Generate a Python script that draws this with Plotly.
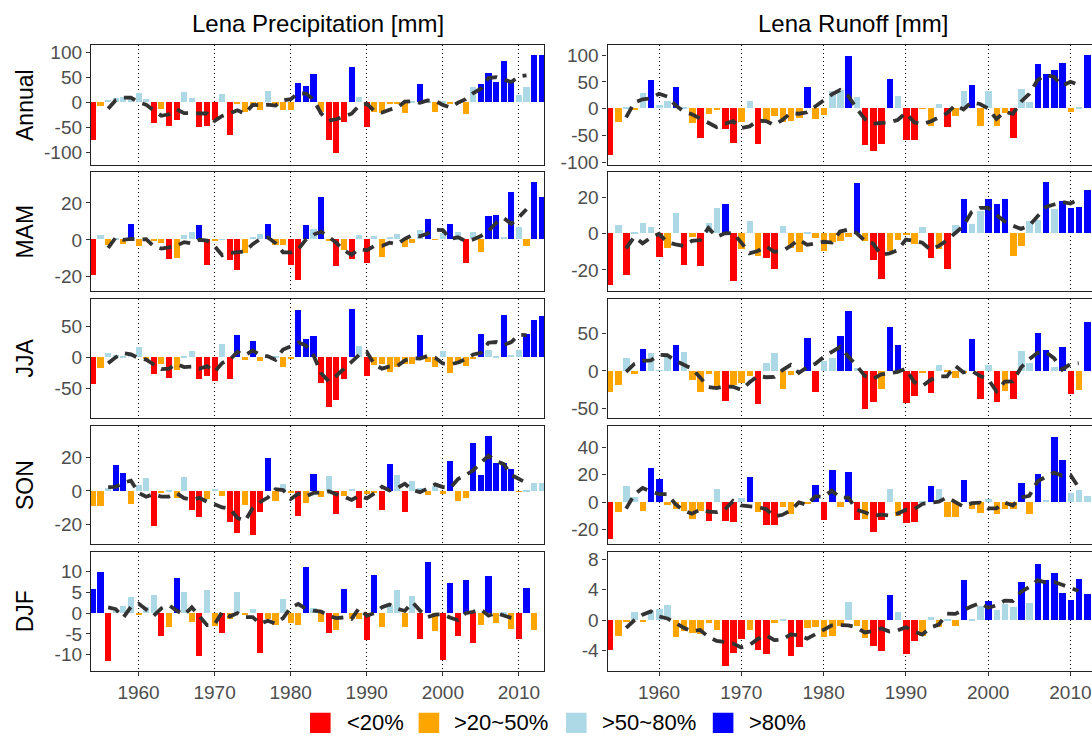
import pandas as pd
import plotly.graph_objects as go

YEARS = list(range(1954, 2014))
DECADES = [1960, 1970, 1980, 1990, 2000, 2010]
DECADE_LABELS = ["1960", "1970", "1980", "1990", "2000", "2010"]
SEASONS = ["Annual", "MAM", "JJA", "SON", "DJF"]
COL_TITLES = ["Lena Precipitation [mm]", "Lena Runoff [mm]"]
LEGEND_CODES = ["R", "O", "L", "B"]
LEGEND_LABELS = ["<20%", ">20~50%", ">50~80%", ">80%"]

# ---------------- Precipitation anomalies (1954-2013) ----------------
P_ANN = [-75, -8, 5, 8, 10, 10, 18, 6, -41, -13,
         -47, -36, 21, 8, -50, -48, -35, 17, -65, -2,
         -20, -6, -16, 22, -5, -15, -15, 38, 33, 56,
         -20, -75, -102, -39, 70, 11, -50, -20, -22, -3,
         -3, -22, 1, 37, 2, -19, 2, -4, -3, -24,
         30, 36, 58, 40, 83, 40, 14, 31, 95, 95]
P_ANN_CAT = "ROLLLLLLRO" "RRLLRRRLRO" "OOOLOOOBBB" "ORRRBLROOO" "OOLBLOLOOO" "LBBBBBLLBB"

P_MAM = [-19.5, 2.3, -2.8, 0.5, -2.3, 8.6, -3.7, -0.5, -0.8, -1.8,
         -10.5, -10, 2.6, 3.9, 7.9, -13.7, -0.5, 0.2, -11, -16.7,
         -7.4, 1.2, 3, 8.2, -2.8, -3, -14, -22, 7.9, 5.8,
         23, -0.4, -14.2, -5.8, -10.5, 2.6, -12.6, 1.6, -9.3, 1.2,
         2.8, -3.9, -2.1, 4.9, 11.2, -0.3, 3.3, 8.2, 4, -12.8,
         4.2, -6.7, 12.6, 13, 1.2, 25.8, 6.8, -3.3, 30.9, 22.8]
P_MAM_CAT = "RLOLOBOOOO" "ROLLBROLRR" "OLLBOORRBL" "BORORLRLOL" "LOOLBOLBLR" "LOBBLBLOBB"

P_JJA = [-43, -17, 7, 4, 2, 6, 16, -3, -26, -10.5,
         -33, -21, 1, 11, -35, -29.5, -38, 22, -35, 36,
         -3.7, 26, -6.3, 3.7, 1.5, -16, -2, 77, 29, 34,
         -41.6, -80.5, -68, -35, 78, 19, -29.5, -12, -10.5, -23,
         -15, -11, -10.5, 36, -7, -16, 10, -25, -10, -13.7,
         -2, 37, 12.6, 3, 68, 3.7, 11.6, 38, 61, 66]
P_JJA_CAT = "ROLLLLLORO" "ROLLRRRLRB" "OBOLLOOBBB" "RRRRBLROOO" "OOOBOOLOOO" "OBLLBLLBBB"

P_SON = [-8.6, -9, 1.8, 15.8, 10.9, -7.6, 3.5, 8, -21, -0.5,
         0.3, -4.3, 8.6, -11, -15.4, -4.5, 1.4, -3.1, -18.5, -24.8,
         -8.4, -26, -12.3, 19.7, -5.7, 4.3, -1, -14.8, -7, 10.1,
         -3.5, 9, -13.8, -3.1, 1.4, -10.3, -1.5, -1, -11, 16.4,
         9.5, -12.5, 6, 2, -2.3, 3, -1.6, 18.1, -6, -4,
         29, 9.7, 33, 16.8, 17, 13.4, -0.3, 0.8, 4.7, 5.1]
P_SON_CAT = "OOLBBOLLRO" "LOLRROLORR" "ORRBOLOROB" "OLROLROORB" "LRLLOLOBOO" "BBBBBBOLLL"

P_DJF = [5.9, 10, -11.4, 0.5, 1.7, 3.9, -0.2, 1.5, 4.4, -5.4,
         -3.3, 8.5, 5.2, -2.1, -10.2, 5.5, -3, -4.7, -1.4, 5.1,
         -0.2, 1.1, -9.5, -1.4, -2.9, 3.5, -2.3, -2.9, 11.2, 1.3,
         -2.1, -4.7, -3.9, 5.9, -1.3, -1.3, -6.5, 9.1, -3.3, 2,
         5.7, -3.3, 4.2, -6.1, 12.4, -4.3, -11.2, 7.2, -5.4, 8,
         -7.2, -2.8, 8.9, -2.4, 0.3, -3.7, -6.1, 6.1, -3.9, None]
P_DJF_CAT = "BBRLLLOLLR" "OBLORLOROL" "OLROOLOOBL" "OROBOORBOL" "LOLRBORBRB" "ROBOLORBOO"

# ---------------- Runoff anomalies (1954-2013) ----------------
R_ANN = [-86, -25, 3, -2, 29, 52, 5.5, 13, 39.5, 3,
         -28, -55, -11, -2, -39, -64, -25, 14, -66, -23,
         -13.5, -26, -23, -18, 39.5, -19, -13, 33, 35, 97.5,
         21, -68.5, -80, -66, 55, 23.5, -59, -58, -1, -32,
         7.4, -35, -15, 33, 43, -32, 32, -32, -9, -55,
         36, 12, 82, 64, 72, 85, -7.4, 1, 100, 45]
R_ANN_CAT = "ROLOLBLLBL" "OROORROLRO" "OOOOBOOLLB" "LRRRBLRROO" "LROLBOLOOR" "LLBBBBOLBL"

R_MAM = [-28.5, 4.9, -23.3, 0.5, 6, 3.8, -13.3, -7.9, 11.4, -17.4,
         -1.9, -17.8, 6, 13.9, 16.1, -26.3, -8.4, 6.9, -12.6, -13.7,
         -19.7, 4.3, -8, -10.1, 0.3, -2.8, -10, -5, -4.5, -2,
         27.8, -4.3, -14.8, -25.3, -10, -3.6, -0.5, -5.8, 3.8, -13.5,
         -8.6, -20, 4.9, 19.3, 5.3, 12.4, 19, 16.1, 19, -12.6,
         -7.1, 7.1, 7.3, 28.3, 13.5, 18, 14, 14.4, 24, 25]
R_MAM_CAT = "RLRLLLROLR" "ORLLBROLOR" "RLOOLOOOOO" "BORROOOOLR" "ORLBLLBBBO" "OLLBLBBBBB"

R_JJA = [-27.7, -19, 16.6, -4.3, 28.5, 23.8, 1, 20, 34, 24.7,
         -12.3, -27.8, -3.8, -24.3, -39.6, -18.3, -16, -7.2, -44, 9.8,
         23.8, -24.3, -5, 1, 44, -28.5, 12.8, 17.4, 45.5, 78.7,
         3.4, -50, -41.7, -23.4, 58.3, 33.6, -42, -32.8, -3, -29,
         7.2, -1.7, -9.4, -3.4, 41.7, -37, 7.7, -41.7, -26.4, -37,
         26, 10.2, 49.8, 28, 5.1, 32, -30.6, -25.5, 65, 10]
R_JJA_CAT = "OOLOBLLLBL" "OOOOROOORL" "LOOLBRLLBB" "LRROBBRROR" "LOOOBRLROR" "LLBBLBROBL"

R_SON = [-27, -6.7, 11.7, 4, -6, 25, 17.1, -1.7, -5, -6,
         -12.2, -6.2, -13.4, 10.2, -13.6, -14.1, 3.5, 18.4, -6.7, -16.9,
         -16.9, -3.5, -8.2, -1.2, -0.8, 12.7, -12.9, 23.6, -3.7, 22.1,
         -13.2, -11.9, -21.8, -12.7, 9.7, -9.7, -15.1, -14.4, 1, 11.9,
         9.7, -10.4, -10.4, 16.4, -5, -7.7, 2.5, -8.4, -4.5, -5,
         13.9, -8.4, 20.8, 1.7, 48, 30.8, 6.7, 9.2, 4.7, 2]
R_SON_CAT = "ROLLOBBOOO" "OORLRRLBOR" "ROOOOBRBOB" "RORRLORRLB" "LOOBOOLOOO" "BOBLBBLLLL"

R_DJF = [-3.9, -2.1, -0.2, 1.1, -0.1, 1.2, 1.5, 2, -2.2, -1.4,
         -1.7, -1.8, -0.3, -1.3, -6, -4.3, -2.5, -1.3, -3.9, -4.4,
         -0.3, 0.1, -4.7, -3.5, -1, -0.9, -2.2, -2, -0.8, 2.4,
         -0.7, -2.35, -3.4, -4.1, 3.3, 1.1, -4.4, -2.7, -2, 0.45,
         -0.85, 0.2, -0.8, 5.3, 0.2, 1.9, 2.5, 1.35, 2.15, 1.8,
         5, 2.3, 7.4, 5.3, 6.2, 3.6, 2.65, 5.5, 3.45, 4]
R_DJF_CAT = "ROOLOLLLOO" "OOOORRRORR" "OLRROOOOOL" "OORRBLRROL" "OLOBLLBLLL" "BLBBBBBBBB"

Y_TICKS_P = [[-100, -50, 0, 50, 100], [-20, 0, 20], [-50, 0, 50], [-20, 0, 20], [-10, -5, 0, 5, 10]]
Y_TICKS_R = [[-100, -50, 0, 50, 100], [-20, 0, 20], [-50, 0, 50], [-20, 0, 20, 40], [-4, 0, 4, 8]]

# ---------------- styling / layout (pixels) ----------------
W, H = 1092, 743
COLORS = {"R": "#FF0000", "O": "#FFA500", "L": "#ADD8E6", "B": "#0000FF"}
COL_X = [(91, 544), (607.6, 1092)]
X_RANGE = [(1953.75, 2013.3), (1953.75, 2012.62)]
ROW_Y = [(43, 164), (172, 292), (300.5, 421), (429, 549.5), (557, 678)]
Y_RANGE_P = [(-124, 115), (-27.5, 36.5), (-97, 94), (-32, 39), (-13.9, 14.7)]
Y_RANGE_R = [(-104, 118), (-31.5, 34), (-62, 95), (-31, 56), (-6.7, 9)]
FONT = "Liberation Sans, Arial, sans-serif"
TICK_COLOR = "#4D4D4D"

panels = [
    (0, 0, P_ANN, P_ANN_CAT), (0, 1, P_MAM, P_MAM_CAT), (0, 2, P_JJA, P_JJA_CAT),
    (0, 3, P_SON, P_SON_CAT), (0, 4, P_DJF, P_DJF_CAT),
    (1, 0, R_ANN, R_ANN_CAT), (1, 1, R_MAM, R_MAM_CAT), (1, 2, R_JJA, R_JJA_CAT),
    (1, 3, R_SON, R_SON_CAT), (1, 4, R_DJF, R_DJF_CAT),
]


def px(x):
    return x / W


def py(y):
    return 1 - y / H


fig = go.Figure()
layout = {}
for k, (col, row, vals, cats) in enumerate(panels, start=1):
    xa = "x" if k == 1 else f"x{k}"
    ya = "y" if k == 1 else f"y{k}"
    xkey = "xaxis" if k == 1 else f"xaxis{k}"
    ykey = "yaxis" if k == 1 else f"yaxis{k}"
    colors = [COLORS[c] for c in cats]
    fig.add_trace(go.Bar(x=YEARS, y=vals, marker=dict(color=colors, line=dict(width=0)),
                         width=0.8, xaxis=xa, yaxis=ya, showlegend=False, hoverinfo="x+y"))
    ma = pd.Series(vals, dtype="float").rolling(5, center=True).mean()
    fig.add_trace(go.Scatter(x=YEARS, y=ma, mode="lines", xaxis=xa, yaxis=ya, showlegend=False,
                             line=dict(color="#333333", width=3.8, dash="12px,8px"),
                             connectgaps=False))
    bottom = row == 4
    x0, x1 = COL_X[col]
    top, bot = ROW_Y[row]
    yticks = (Y_TICKS_P if col == 0 else Y_TICKS_R)[row]
    yr = (Y_RANGE_P if col == 0 else Y_RANGE_R)[row]
    layout[xkey] = dict(
        domain=[px(x0), px(x1)], anchor=ya, range=list(X_RANGE[col]),
        tickvals=DECADES, ticktext=DECADE_LABELS, showticklabels=bottom,
        ticks="outside" if bottom else "", ticklen=4, tickcolor="#333333",
        tickfont=dict(family=FONT, size=19, color=TICK_COLOR),
        showgrid=True, gridcolor="#000000", griddash="1px,3px", gridwidth=1.3,
        zeroline=False, showline=True, linecolor="#222222", linewidth=1.3, mirror=True,
    )
    layout[ykey] = dict(
        domain=[py(bot), py(top)], anchor=xa, range=list(yr),
        tickvals=yticks, ticktext=[str(v) for v in yticks],
        ticks="outside", ticklen=4, tickcolor="#333333",
        tickfont=dict(family=FONT, size=19, color=TICK_COLOR),
        showgrid=False, zeroline=False, showline=True, linecolor="#222222", linewidth=1.3,
        mirror=(col == 0),
    )

annotations = []
shapes = []
# column titles
for col, title in enumerate(COL_TITLES):
    cx = (91 + 544) / 2 if col == 0 else (607.6 + 1098) / 2
    annotations.append(dict(x=px(cx), y=py(21), xref="paper", yref="paper", text=title,
                            showarrow=False, font=dict(family=FONT, size=24, color="black"),
                            xanchor="center", yanchor="middle"))
# row labels
for row, s in enumerate(SEASONS):
    top, bot = ROW_Y[row]
    annotations.append(dict(x=px(25), y=py((top + bot) / 2), xref="paper", yref="paper", text=s,
                            showarrow=False, textangle=-90,
                            font=dict(family=FONT, size=23, color="black"),
                            xanchor="center", yanchor="middle"))
# legend
SQ_X = [310, 418.6, 566, 712.8]
TXT_X = [345, 451.5, 600, 746.5]
for code, label, sx, tx in zip(LEGEND_CODES, LEGEND_LABELS, SQ_X, TXT_X):
    shapes.append(dict(type="rect", xref="paper", yref="paper", x0=px(sx), x1=px(sx + 20.6),
                       y0=py(741), y1=py(720.4), fillcolor=COLORS[code], line=dict(width=0)))
    annotations.append(dict(x=px(tx), y=py(730.5), xref="paper", yref="paper", text=label,
                            showarrow=False, xanchor="left", yanchor="middle",
                            font=dict(family=FONT, size=22, color="black")))

fig.update_layout(
    width=W, height=H, margin=dict(l=0, r=0, t=0, b=0),
    paper_bgcolor="white", plot_bgcolor="white", bargap=0,
    annotations=annotations, shapes=shapes, showlegend=False,
    **layout,
)
fig.write_html("out.html")
